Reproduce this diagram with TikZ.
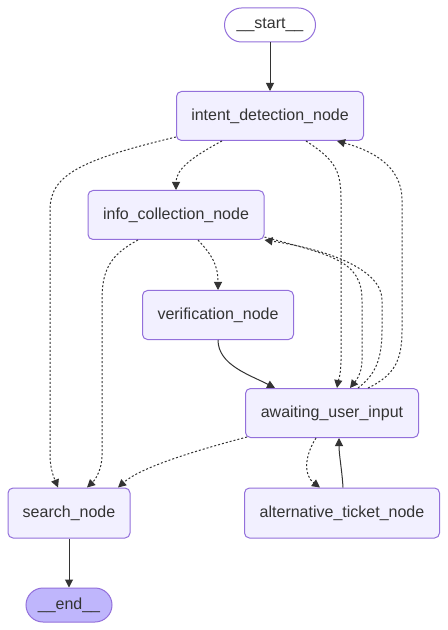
\documentclass[tikz,border=0pt]{standalone}
\usepackage{fontspec}
\setmainfont{Liberation Sans}
\usepackage{xcolor}
\usepackage{tikz}
\usetikzlibrary{arrows.meta,calc}
\definecolor{nodefill}{HTML}{F2F0FF}
\definecolor{nodeline}{HTML}{9370DB}
\definecolor{endfill}{HTML}{BFB6FC}
\definecolor{edgecol}{HTML}{333333}

\begin{document}
\begin{tikzpicture}[x=0.75pt, y=-0.75pt,
    every node/.style={font=\fontsize{12}{14}\selectfont, text=edgecol},
    box/.style={draw=nodeline, fill=nodefill, line width=0.75pt, rounded corners=3.75pt, minimum height=36.75pt, inner sep=0pt},
    term/.style={draw=nodeline, line width=0.75pt, rounded corners=12.75pt, minimum height=25.5pt, inner sep=0pt},
    flow/.style={-{Triangle[length=6pt,width=6pt]}, draw=edgecol, line width=0.75pt},
    cond/.style={flow, dash pattern=on 1.5pt off 1.5pt}]
    \fill[white] (0,0) rectangle (448,630);

    \node[term, fill=white, minimum width=68.25pt] (start) at (270,25) {\_\_start\_\_};
    \node[box, minimum width=140.25pt] (intent) at (270,116) {intent\_detection\_node};
    \node[box, minimum width=132pt] (info) at (176,215) {info\_collection\_node};
    \node[box, minimum width=113.25pt] (verif) at (218,315) {verification\_node};
    \node[box, minimum width=129.75pt] (await) at (332,413) {awaiting\_user\_input};
    \node[box, minimum width=91.5pt, minimum height=37.5pt] (search) at (69,513) {search\_node};
    \node[box, minimum width=146.25pt, minimum height=37.5pt] (alt) at (342,513) {alternative\_ticket\_node};
    \node[term, fill=endfill, minimum width=64.5pt] (end) at (69,605) {\_\_end\_\_};

    \draw[flow] (start) -- (intent);
    \draw[cond] ($(intent.south)+(-48,0)$) .. controls (190,158) and (176,170) .. (info.north);
    \draw[cond] ($(intent.south west)+(0,-4)$) .. controls (80,160) and (50,175) .. (50,210)
        -- (50,455) .. controls (50,470) and (55,480) .. ($(search.north)+(-11,0)$);
    \draw[cond] ($(intent.south)+(36,0)$) .. controls (335,160) and (341,170) .. (341,200)
        -- (341,360) .. controls (341,375) and (338,382) .. ($(await.north)+(5,0)$);
    \draw[cond] ($(await.north)+(36,0)$) .. controls (395,375) and (402,360) .. (402,330)
        -- (402,200) .. controls (402,165) and (370,150) .. ($(intent.south)+(67,0)$);
    \draw[cond] ($(info.south)+(-38,0)$) .. controls (110,255) and (102,270) .. (102,300)
        -- (102,455) .. controls (102,470) and (95,480) .. ($(search.north)+(18,0)$);
    \draw[cond] ($(info.south)+(22,0)$) .. controls (212,255) and (218,265) .. (verif.north);
    \draw[cond] ($(info.south east)+(0,-3)$) .. controls (330,255) and (362,260) .. (362,300)
        -- (362,360) .. controls (362,375) and (354,383) .. ($(await.north)+(18,0)$);
    \draw[cond] ($(await.north)+(26,0)$) .. controls (375,375) and (382,360) .. (382,330)
        -- (382,300) .. controls (382,270) and (330,250) .. (info.south east);
    \draw[flow] (verif.south) .. controls (218,365) and (250,375) .. ($(await.north)+(-57,0)$);
    \draw[cond] ($(await.south west)+(2,-1)$) .. controls (190,452) and (140,468) .. ($(search.north)+(49,0)$);
    \draw[cond] ($(await.south)+(-16,0)$) .. controls (305,455) and (303,475) .. ($(alt.north)+(-22,0)$);
    \draw[flow] ($(alt.north)+(1,0)$) .. controls (342,470) and (339,455) .. ($(await.south)+(7,0)$);
    \draw[flow] (search) -- (end);
\end{tikzpicture}
\end{document}
